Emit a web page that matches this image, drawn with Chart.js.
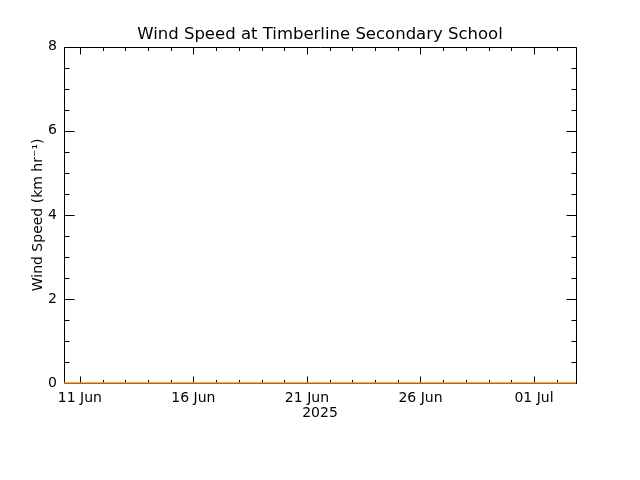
<!DOCTYPE html>
<html>
<head>
<meta charset="utf-8">
<script src="https://cdn.jsdelivr.net/npm/chart.js@4.4.0/dist/chart.umd.min.js"></script>
<style>
  html, body { margin: 0; padding: 0; background: #fff; }
  canvas { display: block; }
</style>
</head>
<body>
<canvas id="wind-chart" width="640" height="480"></canvas>
<script>
// x values are days counted from 1 Jun 2025 (31 = 01 Jul)
const dayRange = [10.3, 32.85];
const sampleDays = [10.3, 12, 14, 16, 18, 20, 22, 24, 26, 28, 30, 32, 32.85];
const windSpeed = [0, 0, 0, 0, 0, 0, 0, 0, 0, 0, 0, 0, 0];
const dayTicks = [11, 16, 21, 26, 31];
const dayLabels = ['11 Jun', '16 Jun', '21 Jun', '26 Jun', '01 Jul'];
const speedTicks = [0, 2, 4, 6, 8];

const font = 'DejaVu Sans';

// IDL style box with inward ticks on all four sides
const frameTicks = {
    id: 'frameTicks',
    beforeDatasetsDraw(chart) {
        const { ctx, chartArea: a, scales: { x, y } } = chart;
        const L = Math.round(a.left) + 0.5;
        const R = Math.round(a.right) + 0.5;
        const T = Math.round(a.top) + 0.5;
        const B = Math.round(a.bottom) + 0.5;
        ctx.save();
        ctx.strokeStyle = '#000';
        ctx.lineWidth = 1;
        ctx.beginPath();
        ctx.rect(L, T, R - L, B - T);
        for (let d = Math.ceil(x.min); d <= x.max; d++) {
            const px = Math.round(x.getPixelForValue(d)) + 0.5;
            const len = dayTicks.includes(d) ? 7 : 3.5;
            ctx.moveTo(px, B); ctx.lineTo(px, B - len);
            ctx.moveTo(px, T); ctx.lineTo(px, T + len);
        }
        for (let v = y.min; v <= y.max; v += 0.5) {
            const py = Math.round(y.getPixelForValue(v)) + 0.5;
            const len = speedTicks.includes(v) ? 10 : 5;
            ctx.moveTo(L, py); ctx.lineTo(L + len, py);
            ctx.moveTo(R, py); ctx.lineTo(R - len, py);
        }
        ctx.stroke();
        ctx.restore();
    }
};

new Chart(document.getElementById('wind-chart'), {
    type: 'line',
    data: {
        datasets: [{
            data: sampleDays.map((d, i) => ({ x: d, y: windSpeed[i] })),
            borderColor: 'rgb(235,140,30)',
            borderWidth: 1.5,
            pointRadius: 0,
            clip: false
        }]
    },
    options: {
        responsive: false,
        animation: false,
        devicePixelRatio: 1,
        layout: { padding: 0 },
        plugins: {
            legend: { display: false },
            tooltip: { enabled: false },
            title: {
                display: true,
                text: 'Wind Speed at Timberline Secondary School',
                color: '#000',
                font: { family: font, size: 16.5, weight: 'normal' },
                padding: { top: 25, bottom: 2 }
            }
        },
        scales: {
            x: {
                type: 'linear',
                min: dayRange[0],
                max: dayRange[1],
                grid: { display: false, drawTicks: false },
                border: { display: false },
                afterBuildTicks: s => { s.ticks = dayTicks.map(v => ({ value: v })); },
                afterFit: s => { s.height = 97; },
                ticks: {
                    autoSkip: false,
                    maxRotation: 0,
                    padding: 7,
                    color: '#000',
                    font: { family: font, size: 14 },
                    callback: (v, i) => dayLabels[i]
                },
                title: {
                    display: true,
                    text: '2025',
                    color: '#000',
                    font: { family: font, size: 14 },
                    padding: { top: 0, bottom: 58 }
                }
            },
            y: {
                min: 0,
                max: 8,
                grid: { display: false, drawTicks: false },
                border: { display: false },
                afterBuildTicks: s => { s.ticks = speedTicks.map(v => ({ value: v })); },
                afterFit: s => { s.width = 64; },
                ticks: {
                    padding: 7,
                    color: '#000',
                    font: { family: font, size: 14 }
                },
                title: {
                    display: true,
                    text: 'Wind Speed (km hr⁻¹)',
                    color: '#000',
                    font: { family: font, size: 14 },
                    padding: { top: 30, bottom: 0 }
                }
            },
            y2: {
                position: 'right',
                min: 0,
                max: 8,
                grid: { display: false, drawTicks: false },
                border: { display: false },
                ticks: { display: false },
                afterFit: s => { s.width = 64; }
            }
        }
    },
    plugins: [frameTicks]
});
</script>
</body>
</html>
